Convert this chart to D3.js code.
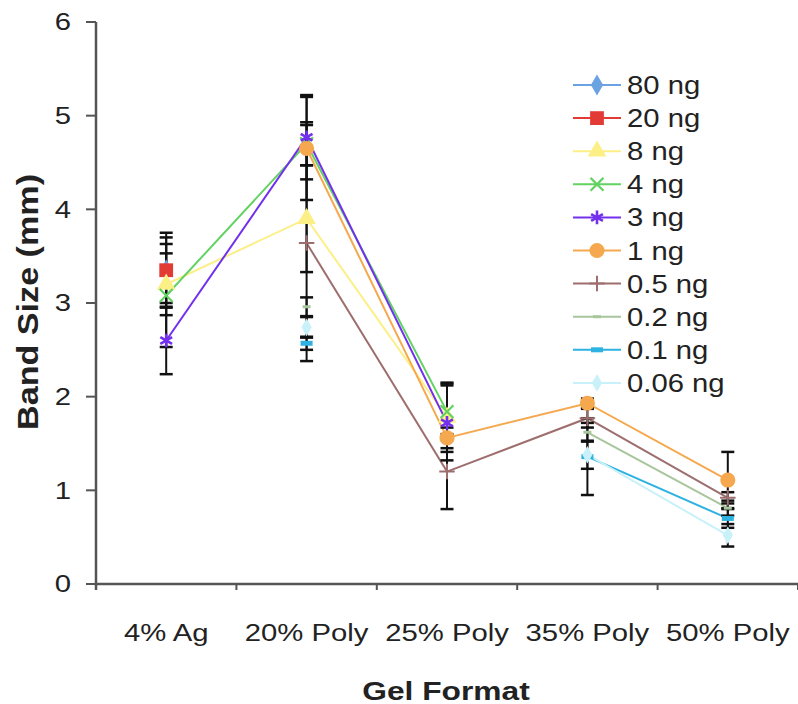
<!DOCTYPE html>
<html>
<head>
<meta charset="utf-8">
<script src="https://cdn.jsdelivr.net/npm/d3@7"></script>
<style>
    body { margin: 0; background: #fff; }
    text { font-family: Arial, "Liberation Sans", sans-serif; fill: #222; }
</style>
</head>
<body>
<svg id="chart" width="798" height="704"></svg>
<script>
var categories = ['4% Ag', '20% Poly', '25% Poly', '35% Poly', '50% Poly'];
var seriesNames = ['80 ng', '20 ng', '8 ng', '4 ng', '3 ng', '1 ng', '0.5 ng', '0.2 ng', '0.1 ng', '0.06 ng'];
var yTicks = [0, 1, 2, 3, 4, 5, 6];

// band size (mm) per gel format, null = no measurement
var ng80  = [3.35, null, null, null, null];
var ng20  = [3.35, null, null, null, null];
var ng8   = [3.20, 3.90, 1.78, null, null];
var ng4   = [3.08, 4.70, 1.84, null, null];
var ng3   = [2.60, 4.77, 1.72, null, null];
var ng1   = [null, 4.65, 1.56, 1.93, 1.11];
var ng05  = [null, 3.64, 1.20, 1.77, 0.92];
var ng02  = [null, 2.96, null, 1.62, 0.81];
var ng01  = [null, 2.57, null, 1.36, 0.70];
var ng006 = [null, 2.74, null, 1.38, 0.52];

// error bar half widths (mm)
var err80  = [0.35, null, null, null, null];
var err20  = [0.40, null, null, null, null];
var err8   = [0.33, 0.57, 0.37, null, null];
var err4   = [0.55, 0.23, 0.30, null, null];
var err3   = [0.36, 0.45, 0.40, null, null];
var err1   = [null, 0.55, 0.11, 0.05, 0.30];
var err05  = [null, 1.26, 0.40, 0.10, 0.06];
var err02  = [null, 0.10, null, 0.10, 0.08];
var err01  = [null, 0.07, null, 0.41, 0.10];
var err006 = [null, 0.11, null, 0.15, 0.12];

var allValues = [ng80, ng20, ng8, ng4, ng3, ng1, ng05, ng02, ng01, ng006];
var allErrors = [err80, err20, err8, err4, err3, err1, err05, err02, err01, err006];

var colors = ['#6aa2e2', '#e23b36', '#fbef86', '#62d262', '#7230ee', '#f5a84e', '#9e6e6e', '#a8c69c', '#2db2e2', '#c8f1fa'];
var markers = ['diamond', 'square', 'triangle', 'times', 'asterisk', 'circle', 'plus', 'dash', 'bar', 'diamondS'];

(function () {
    var svg = d3.select('#chart'),
        plotL = 96, plotR = 798, plotT = 22, plotB = 584;

    var x = d3.scaleBand().domain(categories).range([plotL, plotR]),
        y = d3.scaleLinear().domain([0, 6]).range([plotB, plotT]);

    var series = seriesNames.map(function (name, i) {
        return {
            name: name,
            color: colors[i],
            marker: markers[i],
            points: categories.map(function (c, j) {
                return { cat: c, v: allValues[i][j], e: allErrors[i][j] };
            })
        };
    });

    /**
     * draws one marker into a group at (0,0)
     */
    var drawMarker = function (g, type, color) {
        var sym = function (t, size) { return d3.symbol().type(t).size(size)(); };
        if (type === 'diamond') {
            g.append('path').attr('d', sym(d3.symbolDiamond, 130)).attr('fill', color);
        } else if (type === 'diamondS') {
            g.append('path').attr('d', sym(d3.symbolDiamond, 90)).attr('fill', color);
        } else if (type === 'square') {
            g.append('path').attr('d', sym(d3.symbolSquare, 190)).attr('fill', color);
        } else if (type === 'triangle') {
            g.append('path').attr('d', sym(d3.symbolTriangle, 150)).attr('fill', color);
        } else if (type === 'circle') {
            g.append('path').attr('d', sym(d3.symbolCircle, 180)).attr('fill', color);
        } else if (type === 'times') {
            g.append('path').attr('d', sym(d3.symbolTimes, 110)).attr('fill', 'none')
                .attr('stroke', color).attr('stroke-width', 2.2);
        } else if (type === 'asterisk') {
            g.append('path').attr('d', sym(d3.symbolAsterisk, 130)).attr('fill', 'none')
                .attr('stroke', color).attr('stroke-width', 2.6);
        } else if (type === 'plus') {
            g.append('path').attr('d', sym(d3.symbolPlus, 80)).attr('fill', 'none')
                .attr('stroke', color).attr('stroke-width', 2);
        } else if (type === 'dash') {
            g.append('line').attr('x1', -4).attr('x2', 4).attr('stroke', color).attr('stroke-width', 3);
        } else if (type === 'bar') {
            g.append('rect').attr('x', -6).attr('y', -2.5).attr('width', 12).attr('height', 5).attr('fill', color);
        }
    };

    var stretch = 1.22;

    // axes
    svg.append('line').attr('x1', plotL).attr('x2', plotR).attr('y1', plotB).attr('y2', plotB)
        .attr('stroke', '#555').attr('stroke-width', 2.5);
    svg.append('line').attr('x1', plotL).attr('x2', plotL).attr('y1', plotT).attr('y2', plotB + 6)
        .attr('stroke', '#555').attr('stroke-width', 2.5);

    svg.selectAll('.ytick').data(yTicks).enter().append('line')
        .attr('x1', plotL - 10).attr('x2', plotL).attr('y1', y).attr('y2', y)
        .attr('stroke', '#555').attr('stroke-width', 2);

    svg.selectAll('.ylab').data(yTicks).enter().append('text')
        .attr('text-anchor', 'end').attr('dy', '0.35em')
        .attr('font-size', 24)
        .attr('transform', function (d) { return 'translate(71,' + y(d) + ') scale(' + stretch + ',1)'; })
        .text(function (d) { return d; });

    var xEdges = categories.map(function (c) { return x(c); }).concat([plotR]);
    svg.selectAll('.xtick').data(xEdges).enter().append('line')
        .attr('x1', function (d) { return d; }).attr('x2', function (d) { return d; })
        .attr('y1', plotB).attr('y2', plotB + 6)
        .attr('stroke', '#555').attr('stroke-width', 2);

    svg.selectAll('.xlab').data(categories).enter().append('text')
        .attr('text-anchor', 'middle').attr('font-size', 24)
        .attr('transform', function (d) {
            return 'translate(' + (x(d) + x.bandwidth() / 2) + ',641) scale(' + stretch + ',1)';
        })
        .text(function (d) { return d; });

    svg.append('text').attr('text-anchor', 'middle').attr('font-size', 26).attr('font-weight', 'bold')
        .attr('transform', 'translate(446,700) scale(1.22,1)')
        .text('Gel Format');

    svg.append('text').attr('text-anchor', 'middle').attr('font-size', 30).attr('font-weight', 'bold')
        .attr('transform', 'translate(38,302) rotate(-90)')
        .attr('textLength', 256).attr('lengthAdjust', 'spacingAndGlyphs')
        .text('Band Size (mm)');

    var cx = function (d) { return x(d.cat) + x.bandwidth() / 2; };

    // lines
    var line = d3.line()
        .defined(function (d) { return d.v !== null; })
        .x(cx)
        .y(function (d) { return y(d.v); });

    svg.selectAll('.series-line').data(series).enter().append('path')
        .attr('class', 'series-line')
        .attr('d', function (s) { return line(s.points); })
        .attr('fill', 'none')
        .attr('stroke', function (s) { return s.color; })
        .attr('stroke-width', 2);

    // error bars
    var errPts = [];
    series.forEach(function (s) {
        s.points.forEach(function (p) { if (p.v !== null && p.e !== null) errPts.push(p); });
    });
    var eb = svg.selectAll('.err').data(errPts).enter().append('g').attr('class', 'err');
    eb.append('line')
        .attr('x1', cx).attr('x2', cx)
        .attr('y1', function (d) { return y(d.v + d.e); })
        .attr('y2', function (d) { return y(d.v - d.e); })
        .attr('stroke', '#111').attr('stroke-width', 2);
    [1, -1].forEach(function (sgn) {
        eb.append('line')
            .attr('x1', function (d) { return cx(d) - 6.5; })
            .attr('x2', function (d) { return cx(d) + 6.5; })
            .attr('y1', function (d) { return y(d.v + sgn * d.e); })
            .attr('y2', function (d) { return y(d.v + sgn * d.e); })
            .attr('stroke', '#111').attr('stroke-width', 2.5);
    });

    // markers
    series.forEach(function (s) {
        s.points.forEach(function (p) {
            if (p.v === null) return;
            var g = svg.append('g').attr('transform', 'translate(' + cx(p) + ',' + y(p.v) + ')');
            drawMarker(g, s.marker, s.color);
        });
    });

    // legend
    var legend = svg.selectAll('.legend').data(series).enter().append('g')
        .attr('class', 'legend')
        .attr('transform', function (s, i) { return 'translate(573,' + (85 + i * 33.1) + ')'; });
    legend.append('line').attr('x1', 0).attr('x2', 48)
        .attr('stroke', function (s) { return s.color; }).attr('stroke-width', 2);
    legend.each(function (s) {
        drawMarker(d3.select(this).append('g').attr('transform', 'translate(24,0)'), s.marker, s.color);
    });
    legend.append('text')
        .attr('font-size', 25).attr('dy', '0.36em')
        .attr('transform', 'translate(54,0) scale(1.17,1)')
        .text(function (s) { return s.name; });
})();
</script>
</body>
</html>
